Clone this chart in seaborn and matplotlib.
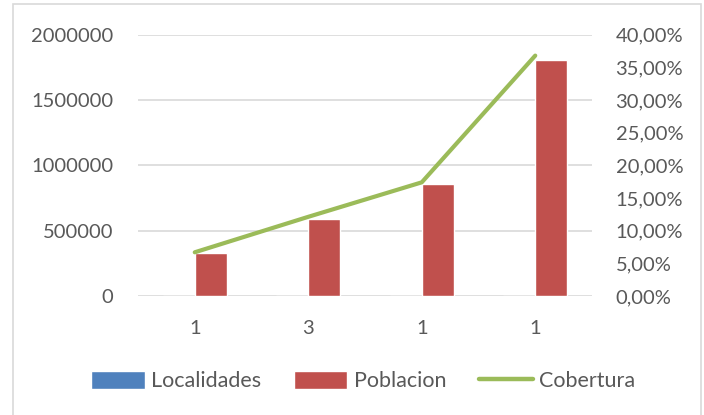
import matplotlib
matplotlib.use("Agg")
import matplotlib.pyplot as plt
import matplotlib.ticker as mticker
from matplotlib.patches import Patch, Rectangle
from matplotlib.lines import Line2D
import pandas as pd
import seaborn as sns

# Data
localidades = [1, 3, 1, 1]
poblacion = [327000, 587000, 855000, 1808000]
cobertura = [0.0669, 0.1212, 0.1740, 0.3680]

series_names = ["Localidades", "Poblacion", "Cobertura"]
colors = {"Localidades": "#4F81BD", "Poblacion": "#C0504D", "Cobertura": "#9BBB59"}

sns.set_theme(style="white")
plt.rcParams["font.family"] = ["Lato", "DejaVu Sans"]
text_color = "#595959"
grid_color = "#D9D9D9"
fs = 14.5

pos = list(range(len(localidades)))
bars = pd.DataFrame({
    "grupo": pos * 2,
    "serie": ["Localidades"] * len(pos) + ["Poblacion"] * len(pos),
    "valor": localidades + poblacion,
})
linea = pd.DataFrame({"grupo": pos, "valor": cobertura})

fig = plt.figure(figsize=(7.04, 4.15), dpi=100)
ax = fig.add_axes([138 / 704, 1 - 296 / 415, (592 - 138) / 704, (296 - 34.7) / 415])

sns.barplot(data=bars, x="grupo", y="valor", hue="serie", order=pos,
            hue_order=["Localidades", "Poblacion"], palette=colors,
            width=0.565, gap=0, saturation=1, legend=False, ax=ax)

ax.set_ylim(0, 2000000)
ax.yaxis.set_major_locator(mticker.MultipleLocator(500000))
ax.yaxis.set_major_formatter(mticker.FuncFormatter(lambda v, p: f"{int(v)}"))
ax.yaxis.grid(True, color=grid_color, linewidth=1.2)
ax.set_axisbelow(True)
for s in ax.spines.values():
    s.set_visible(False)
ax.set_xlabel("")
ax.set_ylabel("")
ax.set_xticks(pos)
ax.set_xticklabels([str(v) for v in localidades])
ax.tick_params(axis="y", length=0, pad=18, labelsize=fs, labelcolor=text_color)
ax.tick_params(axis="x", length=0, pad=17, labelsize=fs, labelcolor=text_color)

ax2 = ax.twinx()
sns.lineplot(data=linea, x="grupo", y="valor", color=colors["Cobertura"],
             linewidth=3.0, solid_capstyle="round", ax=ax2)
ax2.set_ylim(0, 0.40)
ax2.yaxis.set_major_locator(mticker.MultipleLocator(0.05))
ax2.yaxis.set_major_formatter(
    mticker.FuncFormatter(lambda v, p: f"{v * 100:.2f}%".replace(".", ",")))
ax2.tick_params(axis="y", length=0, pad=17, labelsize=fs, labelcolor=text_color)
ax2.set_ylabel("")
ax2.set_xlabel("")
for s in ax2.spines.values():
    s.set_visible(False)
ax.set_xlim(-0.5, len(pos) - 0.5)

# Chart frame
fig.patches.append(Rectangle((13 / 704, -0.05), (701 - 13) / 704, 1 - 4 / 415 + 0.05,
                             transform=fig.transFigure, fill=False,
                             edgecolor=grid_color, linewidth=1.2))

handles = [
    Patch(facecolor=colors["Localidades"]),
    Patch(facecolor=colors["Poblacion"]),
    Line2D([], [], color=colors["Cobertura"], linewidth=3.2, solid_capstyle="round"),
]
leg = fig.legend(handles, series_names, loc="center", bbox_to_anchor=(363 / 704, 1 - 381 / 415),
                 ncol=3, frameon=False, fontsize=15.5, handlelength=2.5, handleheight=0.9,
                 handletextpad=0.3, columnspacing=1.5, borderaxespad=0)
for t in leg.get_texts():
    t.set_color(text_color)

fig.savefig("out.png", dpi=100)
